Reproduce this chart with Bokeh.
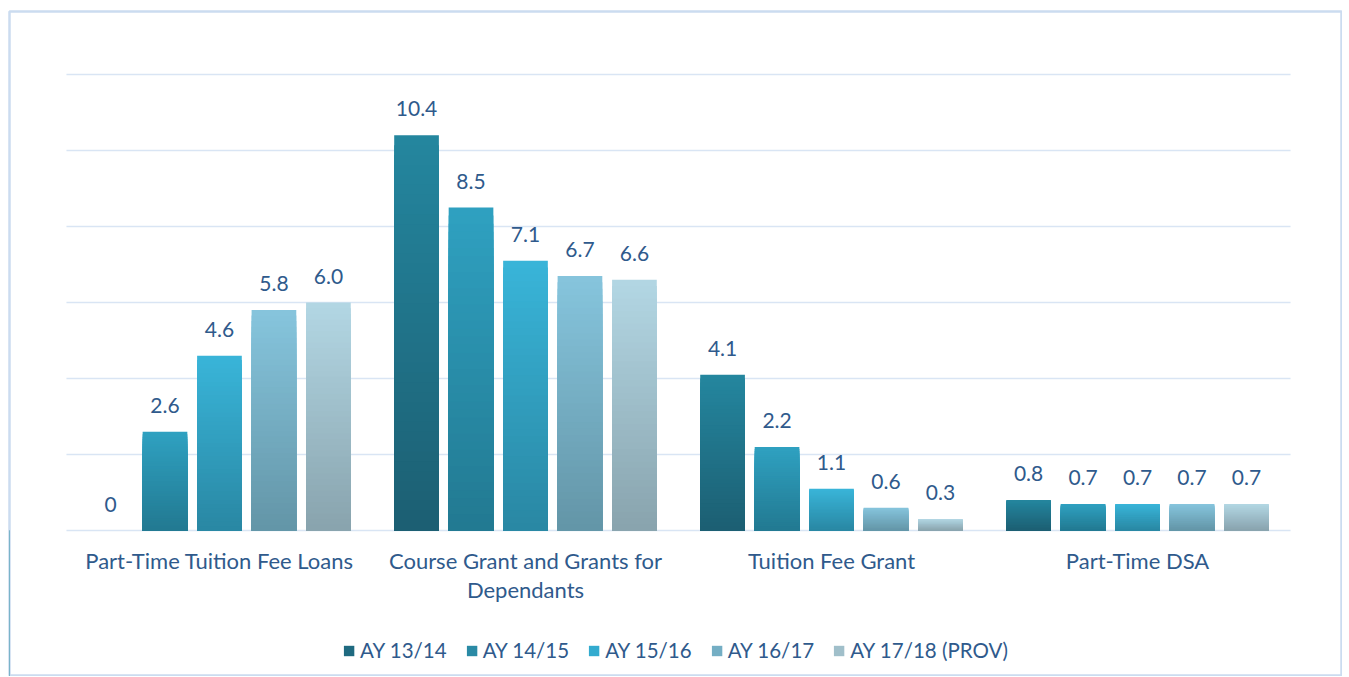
from bokeh.plotting import figure
from bokeh.models import ColumnDataSource, Legend, LegendItem, Range1d
from bokeh.embed import file_html
from bokeh.resources import INLINE

categories = ["Part-Time Tuition Fee Loans", "Course Grant and Grants for\nDependants",
              "Tuition Fee Grant", "Part-Time DSA"]
series = ["AY 13/14", "AY 14/15", "AY 15/16", "AY 16/17", "AY 17/18 (PROV)"]
ay_13_14 = [0.0, 10.4, 4.1, 0.8]
ay_14_15 = [2.6, 8.5, 2.2, 0.7]
ay_15_16 = [4.6, 7.1, 1.1, 0.7]
ay_16_17 = [5.8, 6.7, 0.6, 0.7]
ay_17_18 = [6.0, 6.6, 0.3, 0.7]
labels_13_14 = ["0", "10.4", "4.1", "0.8"]
labels_14_15 = ["2.6", "8.5", "2.2", "0.7"]
labels_15_16 = ["4.6", "7.1", "1.1", "0.7"]
labels_16_17 = ["5.8", "6.7", "0.6", "0.7"]
labels_17_18 = ["6.0", "6.6", "0.3", "0.7"]
y_ticks = [0, 2, 4, 6, 8, 10, 12]

values = [ay_13_14, ay_14_15, ay_15_16, ay_16_17, ay_17_18]
labels = [labels_13_14, labels_14_15, labels_15_16, labels_16_17, labels_17_18]
# (bottom colour, top colour) of each series' gradient
grad = [("#1c5e72", "#24879f"), ("#227991", "#2fa1c1"), ("#2987a3", "#39b5d9"),
        ("#6395a7", "#86c5dd"), ("#88a3ad", "#b3d7e4")]
legend_cols = ["#1f6a80", "#2a8aa5", "#33abcf", "#74aec4", "#a0bfca"]

FONT = "Lato"
TXT = "#2f5a8c"

def hex2rgb(h):
    return tuple(int(h[i:i + 2], 16) for i in (1, 3, 5))

def mix(c1, c2, t):
    a, b = hex2rgb(c1), hex2rgb(c2)
    return "#%02x%02x%02x" % tuple(round(a[i] + (b[i] - a[i]) * t) for i in range(3))

# frame covers (almost) the whole canvas; 306.25 px per category, 38 px per unit
p = figure(width=1342, height=676, output_backend="svg", toolbar_location=None,
           x_range=Range1d(-0.1861, 4.1665), y_range=Range1d(-3.842, 13.658),
           min_border_left=9, min_border_right=1, min_border_top=11, min_border_bottom=0,
           x_axis_type=None, y_axis_type=None)
p.xgrid.visible = False
p.ygrid.visible = False
p.outline_line_color = "#cbdcf0"
p.outline_line_width = 2.5
p.background_fill_color = "white"
p.border_fill_color = "white"

# horizontal gridlines across the plot area
p.segment(x0=[0] * len(y_ticks), x1=[len(categories)] * len(y_ticks), y0=y_ticks, y1=y_ticks,
          line_color="#d9e5f4", line_width=1.5)

N = 40
offsets = [-0.356, -0.178, 0.0, 0.178, 0.356]
bw = 0.146
items = []
for s, name in enumerate(series):
    xs, tops, cols = [], [], []
    for g, v in enumerate(values[s]):
        xc = g + 0.5 + offsets[s]
        # overlapping slices, tallest (lightest) first, so the gradient has no seams
        for k in range(N - 1, -1, -1):
            xs.append(xc)
            tops.append(v * (k + 1) / N)
            cols.append(mix(grad[s][0], grad[s][1], (k + 0.5) / N))
    src = ColumnDataSource(dict(x=xs, top=tops, color=cols))
    p.vbar(x="x", bottom=0, top="top", width=bw, source=src,
           fill_color="color", line_color=None)
    lsrc = ColumnDataSource(dict(x=[g + 0.5 + offsets[s] for g in range(len(categories))],
                                 y=values[s], t=labels[s]))
    p.text(x="x", y="y", text="t", source=lsrc, text_align="center",
           text_baseline="bottom", y_offset=-19, text_font={"value": FONT},
           text_font_size="21px", text_color=TXT)
    # legend swatch renderer (outside the visible range)
    lr = p.vbar(x=[-10], top=[-10], width=0.1, fill_color=legend_cols[s], line_color=None)
    items.append(LegendItem(label=name, renderers=[lr]))

# category labels below the baseline
csrc = ColumnDataSource(dict(x=[g + 0.5 for g in range(len(categories))],
                             y=[0] * len(categories), t=categories))
p.text(x="x", y="y", text="t", source=csrc, text_align="center", text_baseline="top",
       y_offset=16, text_font={"value": FONT}, text_font_size="22px", text_color=TXT,
       text_line_height=1.09)

legend = Legend(items=items, orientation="horizontal", location="bottom_center",
                label_text_font=FONT, label_text_font_size="20.5px", label_text_color=TXT,
                glyph_width=13, glyph_height=13, label_standoff=5, spacing=18,
                border_line_color=None, background_fill_alpha=0, margin=14, padding=0)
p.add_layout(legend, "center")

open("out.html", "w").write(file_html(p, INLINE))
